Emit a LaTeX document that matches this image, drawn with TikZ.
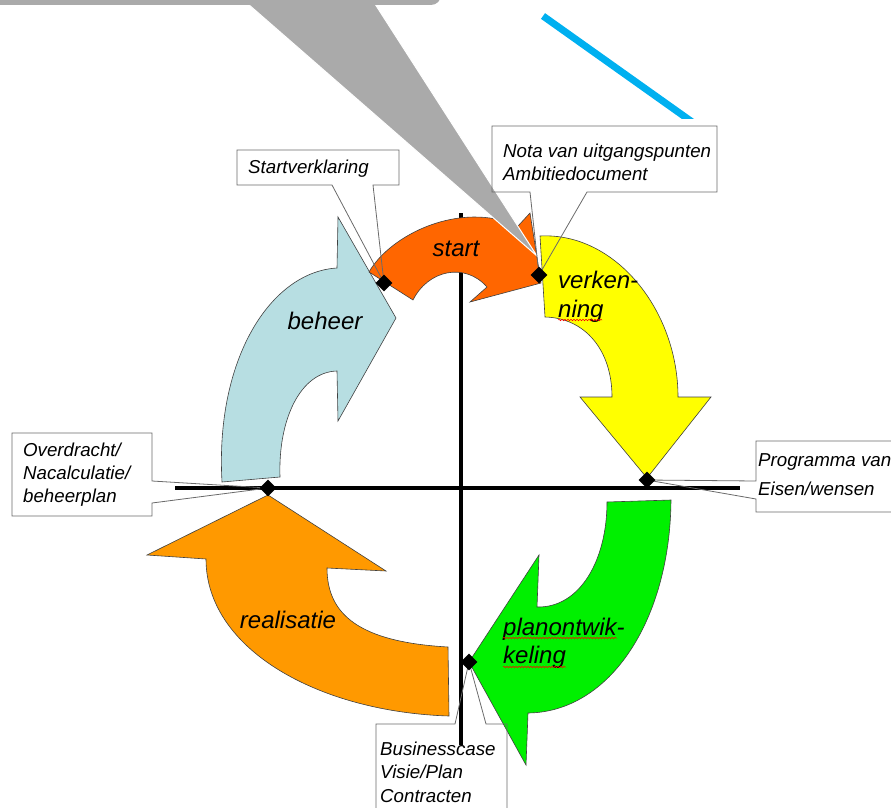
\documentclass[tikz,border=0pt]{standalone}
\usepackage{fontspec}
\setmainfont{Liberation Sans}
\usetikzlibrary{shapes.geometric,decorations.pathmorphing}
\definecolor{cStart}{HTML}{FF6600}
\definecolor{cVerk}{HTML}{FFFF00}
\definecolor{cPlan}{HTML}{00F000}
\definecolor{cReal}{HTML}{FF9900}
\definecolor{cBeh}{HTML}{B7DEE2}
\definecolor{cGray}{HTML}{AAAAAA}
\definecolor{cLine}{HTML}{00B0F0}
\definecolor{cBox}{HTML}{6A6A6A}
\begin{document}
\begin{tikzpicture}[x=1pt,y=-1pt,
  phase/.style={draw=black!75, line width=0.6pt},
  lbl/.style={font=\fontsize{24}{29}\selectfont\itshape, inner sep=0},
  boxtxt/.style={font=\fontsize{18.7}{23}\selectfont\itshape, inner sep=0, anchor=base west},
  callout/.style={draw=cBox, line width=0.8pt},
  dia/.style={shape=diamond, fill=black, inner sep=0, minimum width=17pt, minimum height=17pt},
  axisline/.style={line width=4pt, black},
  squig/.style={red, line width=0.5pt, decorate, decoration={snake, amplitude=0.8pt, segment length=3pt}}]

\useasboundingbox (0,0) rectangle (891,808);
\clip (0,0) rectangle (891,808);

% marker positions
\coordinate (pNV) at (539,275);
\coordinate (pSV) at (384,283);
\coordinate (pPR) at (647,480);
\coordinate (pOV) at (268,488);
\coordinate (pBC) at (469,662);

% axes
\coordinate (hL) at (175,488); \coordinate (hR) at (740,488);
\coordinate (vT) at (461,213); \coordinate (vB) at (461,745);
\draw[axisline] (hL) -- (hR);
\draw[axisline] (vT) -- (vB);

% beheer
\filldraw[phase, fill=cBeh] (222,482) .. controls (215,360) and (270,272) .. (337,268)
  -- (338,217) -- (396,318) -- (338,421) -- (337,371)
  .. controls (300,372) and (278,420) .. (280,477) -- cycle;

% start
\filldraw[phase, fill=cStart] (369,272) .. controls (390,235) and (460,200) .. (518,226)
  -- (530,213) -- (541,283) -- (470,302) -- (487,287)
  .. controls (465,262) and (428,270) .. (413,300) -- cycle;

% verkenning
\filldraw[phase, fill=cVerk] (540,236) .. controls (615,232) and (678,310) .. (678,397)
  -- (711,397) -- (647,478) -- (580,397) -- (612,397)
  .. controls (612,350) and (585,318) .. (545,317) -- cycle;

% planontwikkeling
\filldraw[phase, fill=cPlan] (607,502) -- (671,500)
  .. controls (670,620) and (610,712) .. (528,713)
  -- (526,765) -- (469,662) -- (539,555) -- (537,607)
  .. controls (580,608) and (607,560) .. (607,502) -- cycle;

% realisatie
\filldraw[phase, fill=cReal] (268,495) -- (386,571) -- (327,568)
  .. controls (327,615) and (360,642) .. (448,647)
  -- (449,716) .. controls (320,712) and (206,650) .. (206,559)
  -- (147,555) -- cycle;

% gray callout at top
\filldraw[fill=cGray, draw=white, line width=1pt] (248,4) -- (537,256) -- (375,4) -- cycle;
\fill[cGray, rounded corners=10pt] (-30,-40) rectangle (441,5);

% blue line
\begin{scope}
\clip (500,0) rectangle (760,118);
\draw[cLine, line width=7pt] (543,16) -- (695,124);
\end{scope}

% callout boxes
\draw[callout] (237,150) -- (399,150) -- (399,185) -- (373,185) -- (pSV) -- (332,185) -- (237,185) -- cycle;
\draw[callout] (492,126) -- (717,126) -- (717,192) -- (587,192) -- (pNV) -- (530,192) -- (492,192) -- cycle;
\draw[callout] (12,433) -- (152,433) -- (152,481) -- (pOV) -- (152,503) -- (152,516) -- (12,516) -- cycle;
\draw[callout] (756,441) -- (900,441) -- (900,512) -- (756,512) -- (756,499) -- (pPR) -- (756,481) -- cycle;
\draw[callout] (376,724) -- (455,724) -- (pBC) -- (486,724) -- (507,724) -- (507,830) -- (376,830) -- cycle;

% box texts
\node[boxtxt] (tSV) at (248,173) {Startverklaring};
\node[boxtxt] (tNV1) at (503,157) {Nota van uitgangspunten};
\node[boxtxt] (tNV2) at (503,180) {Ambitiedocument};
\node[boxtxt] (tOV1) at (23,456) {Overdracht/};
\node[boxtxt] (tOV2) at (23,479) {Nacalculatie/};
\node[boxtxt] (tOV3) at (23,502) {beheerplan};
\node[boxtxt] (tPR1) at (758,466) {Programma van};
\node[boxtxt] (tPR2) at (758,495) {Eisen/wensen};
\node[boxtxt] (tBC1) at (380,755) {Businesscase};
\node[boxtxt] (tBC2) at (380,778) {Visie/Plan};
\node[boxtxt] (tBC3) at (380,802) {Contracten};

% phase labels
\node[lbl, anchor=base] (lStart) at (456,256) {start};
\node[lbl, anchor=base west] (lVerk1) at (558,288) {verken-};
\node[lbl, anchor=base west] (lVerk2) at (558,317) {ning};
\node[lbl, anchor=base] (lBeh) at (325,329) {beheer};
\node[lbl, anchor=base] (lReal) at (288,628) {realisatie};
\node[lbl, anchor=base west] (lPlan1) at (503,635) {planontwik-};
\node[lbl, anchor=base west] (lPlan2) at (503,663) {keling};

% spell-check squiggles
\draw[squig] (558,320) -- (602,320);
\draw[squig] (503,638) -- (617,638);
\draw[squig] (503,667) -- (566,667);

% diamonds
\node[dia] (dNV) at (pNV) {};
\node[dia] (dSV) at (pSV) {};
\node[dia] (dPR) at (pPR) {};
\node[dia] (dOV) at (pOV) {};
\node[dia] (dBC) at (pBC) {};
\end{tikzpicture}
\end{document}
